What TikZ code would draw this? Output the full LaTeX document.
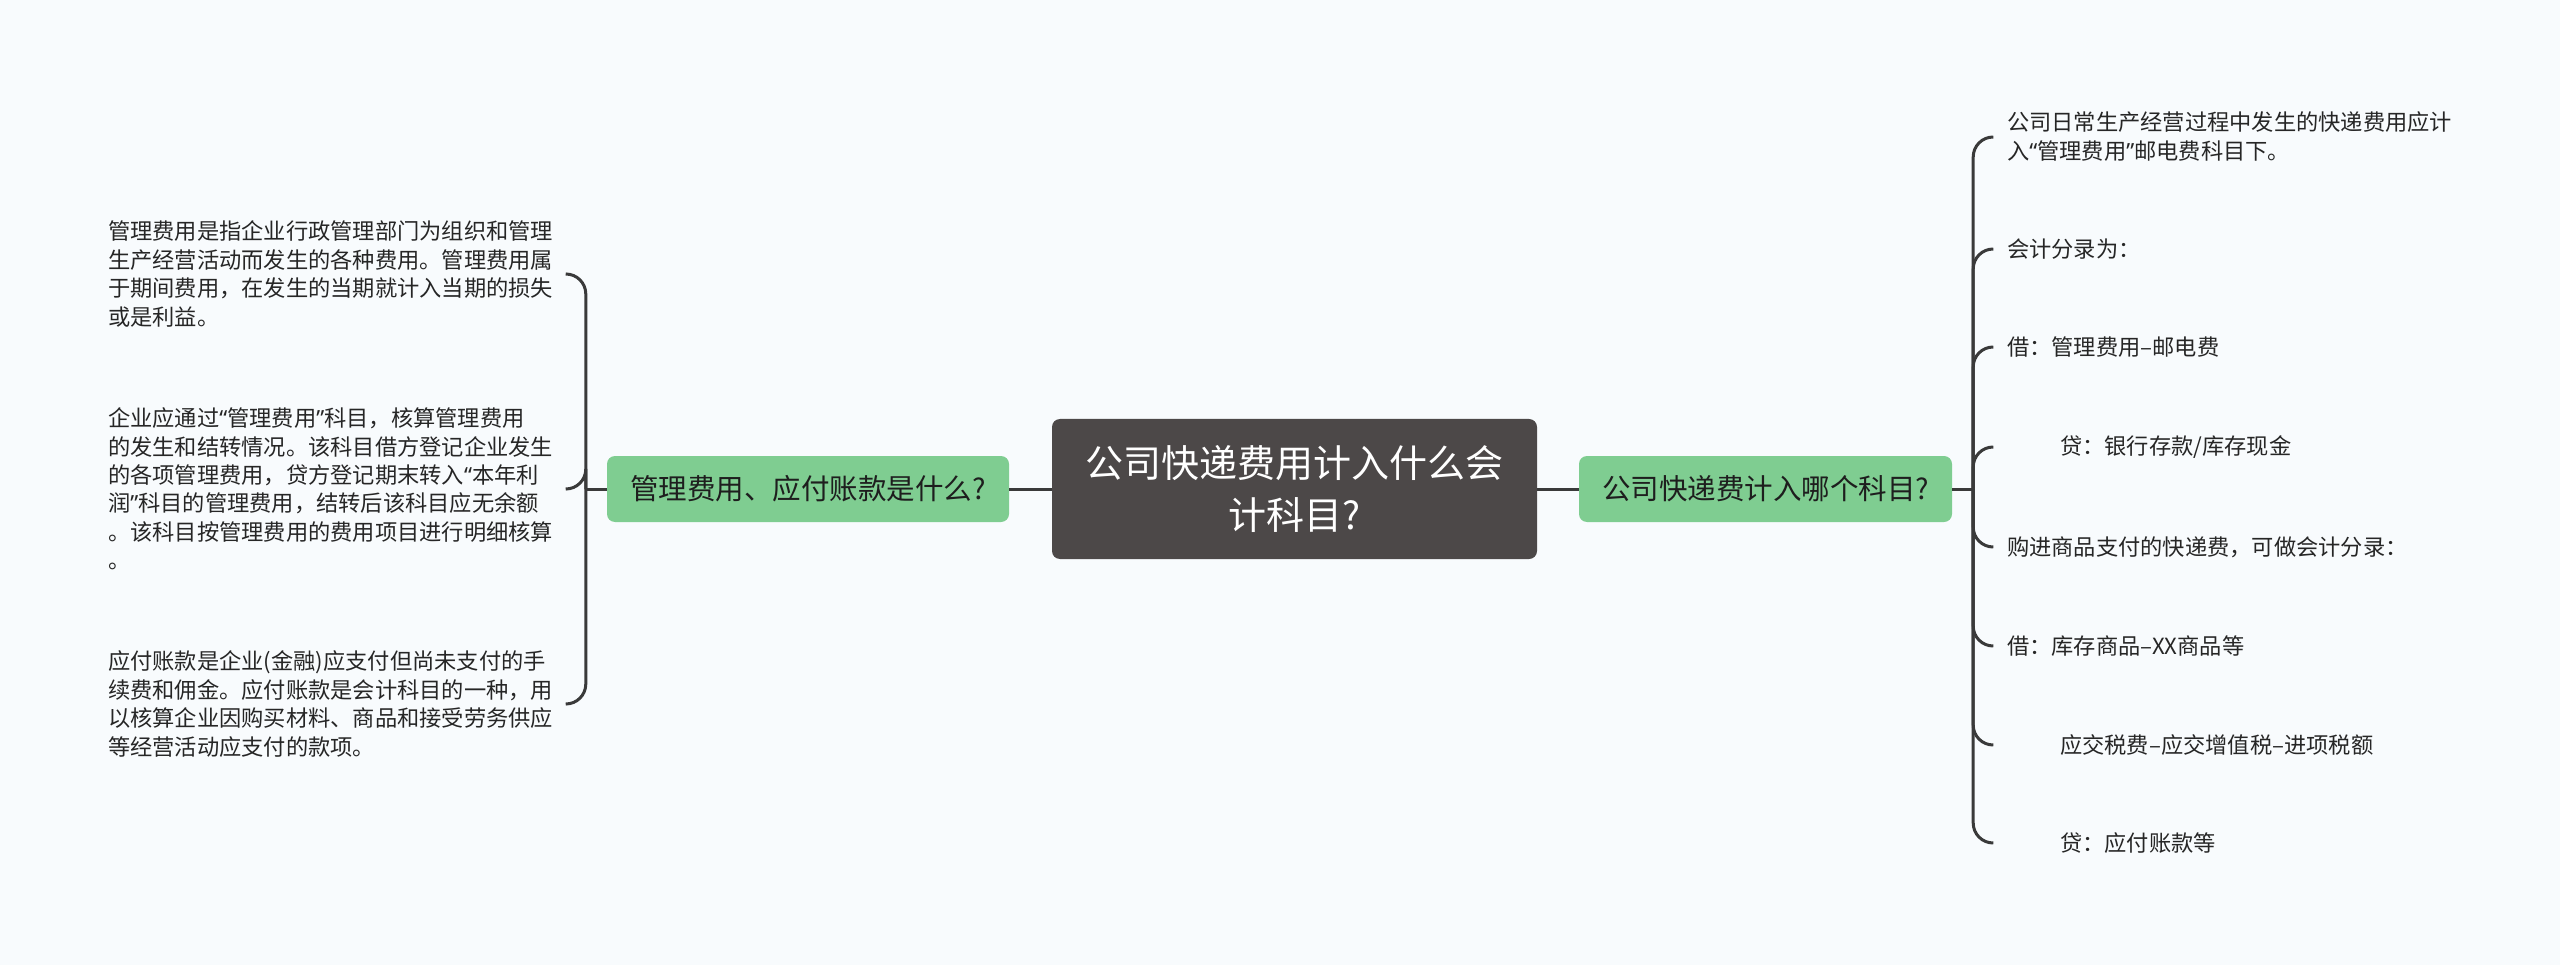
\documentclass[tikz,border=0pt]{standalone}
\usepackage{fontspec}
\newfontfamily\cjk{Noto Sans CJK SC}
\newfontfamily\lat{Noto Sans}
\newcommand{\aq}{{\lat “}}
\newcommand{\cq}{{\lat ”}}
\usetikzlibrary{positioning}
\definecolor{sfondo}{RGB}{248,251,253}
\definecolor{radice}{RGB}{76,72,72}
\definecolor{ramo}{RGB}{127,205,145}
\definecolor{linea}{RGB}{58,58,58}
\definecolor{testo}{RGB}{38,38,38}
\tikzset{
	radicebox/.style={rounded corners=8pt, fill=radice, text=white, minimum width=485pt, minimum height=140pt, align=center, font=\cjk\fontsize{38}{52}\selectfont},
	ramobox/.style={rounded corners=8pt, fill=ramo, text=testo!80!black, minimum height=66pt, font=\cjk\fontsize{28.5}{34}\selectfont},
	fogliasx/.style={anchor=west, align=left, text width=445pt, inner xsep=13pt, inner ysep=0pt, text=testo, font=\cjk\fontsize{22.25}{28.4}\selectfont},
	fogliadx/.style={anchor=west, align=left, inner xsep=14pt, inner ysep=0pt, text=testo, font=\cjk\fontsize{22.25}{29}\selectfont},
	collega/.style={draw=linea, line width=3pt},
	graffa/.style={collega, rounded corners=20pt}
}
\begin{document}
\begin{tikzpicture}[x=1pt, y=-1pt]
		
		%Sfondo e dimensioni
		\fill[sfondo] (0,0) rectangle (2560,965);
		\useasboundingbox (0,0) rectangle (2560,965);
		
		%Rappresento i blocchi
		\node (radice) at (1294.5,489) [radicebox]{公司快递费用计入什么会\\计科目?};
		\node (sinistra) at (808,489) [ramobox, minimum width=402pt]{管理费用、应付账款是什么?};
		\node (destra) at (1765.5,489) [ramobox, minimum width=373pt]{公司快递费计入哪个科目?};
		
		%Testi a sinistra
		\node (sx1) at (95,274) [fogliasx]{管理费用是指企业行政管理部门为组织和管理\\生产经营活动而发生的各种费用。管理费用属\\于期间费用，在发生的当期就计入当期的损失\\或是利益。};
		\node (sx2) at (95,489) [fogliasx]{企业应通过\aq 管理费用\cq 科目，核算管理费用\\的发生和结转情况。该科目借方登记企业发生\\的各项管理费用，贷方登记期末转入\aq 本年利\\润\cq 科目的管理费用，结转后该科目应无余额\\。该科目按管理费用的费用项目进行明细核算\\。};
		\node (sx3) at (95,704) [fogliasx]{应付账款是企业(金融)应支付但尚未支付的手\\续费和佣金。应付账款是会计科目的一种，用\\以核算企业因购买材料、商品和接受劳务供应\\等经营活动应支付的款项。};
		
		%Testi a destra
		\node (dx1) at (1993,137) [fogliadx]{公司日常生产经营过程中发生的快递费用应计\\入\aq 管理费用\cq 邮电费科目下。};
		\node (dx2) at (1993,249) [fogliadx]{会计分录为：};
		\node (dx3) at (1993,347) [fogliadx]{借：管理费用–邮电费};
		\node (dx4) at (1993,447) [fogliadx]{\hspace*{53pt}贷：银行存款/库存现金};
		\node (dx5) at (1993,547) [fogliadx]{购进商品支付的快递费，可做会计分录：};
		\node (dx6) at (1993,646) [fogliadx]{借：库存商品–XX商品等};
		\node (dx7) at (1993,745) [fogliadx]{\hspace*{53pt}应交税费–应交增值税–进项税额};
		\node (dx8) at (1993,843) [fogliadx]{\hspace*{53pt}贷：应付账款等};
		
		%Rappresento i collegamenti
		\draw[collega] (radice.west) -- (sinistra.east);
		\draw[collega] (radice.east) -- (destra.west);
		\draw[collega] (sinistra.west) -- ++(-21,0) coordinate (gsx);
		\draw[collega] (destra.east) -- ++(21,0) coordinate (gdx);
		
		%Disegno le graffe
		\foreach \f in {sx1,sx2,sx3}
			\draw[graffa] (gsx) |- (\f.east);
		\foreach \f in {dx1,dx2,dx3,dx4,dx5,dx6,dx7,dx8}
			\draw[graffa] (gdx) |- (\f.west);
		
\end{tikzpicture}
\end{document}
